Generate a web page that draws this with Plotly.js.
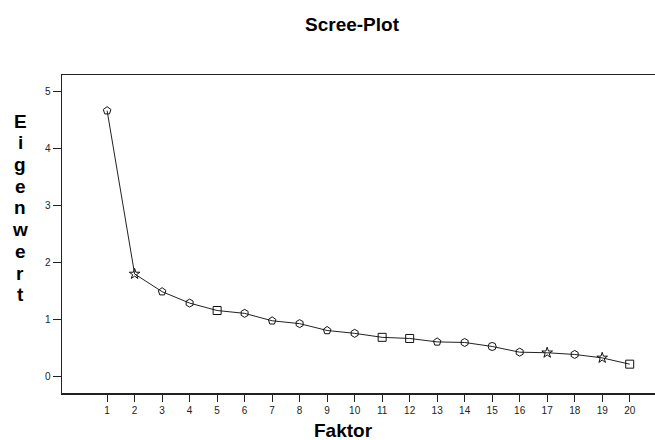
<!DOCTYPE html>
<html>
<head>
<meta charset="utf-8">
<script src="https://cdn.plot.ly/plotly-3.0.1.min.js"></script>
<style>html,body{margin:0;padding:0;background:#fff;}#chart{width:655px;height:440px;}</style>
</head>
<body>
<div id="chart"></div>
<script>
const factors = [1,2,3,4,5,6,7,8,9,10,11,12,13,14,15,16,17,18,19,20];
const eigenvalues = [4.66,1.80,1.49,1.29,1.16,1.11,0.98,0.93,0.81,0.76,0.69,0.67,0.61,0.60,0.53,0.43,0.42,0.39,0.33,0.22];
const tickLabels = ['1','2','3','4','5','6','7','8','9','10','11','12','13','14','15','16','17','18','19','20'];
const yTicks = [0,1,2,3,4,5];
const titleText = 'Scree-Plot';
const xTitleText = 'Faktor';
const yTitleText = 'Eigenwert';

const symbols = ['pentagon-open','star-open','pentagon-open','hexagon-open','square-open','hexagon-open','pentagon-open','hexagon-open','pentagon-open','hexagon-open','square-open','square-open','pentagon-open','hexagon-open','circle-open','hexagon-open','star-open','hexagon-open','star-open','square-open'];

const trace = {
  x: factors, y: eigenvalues, type: 'scatter', mode: 'lines+markers',
  line: {color: '#222', width: 1},
  marker: {symbol: symbols, size: 8, color: '#111', line: {color: '#111', width: 1}},
  hoverinfo: 'skip', showlegend: false
};

const annotations = [
  {text: '<b>' + titleText + '</b>', xref: 'paper', yref: 'paper', x: 0.49, y: 1, yshift: 51,
   showarrow: false, font: {size: 19, color: '#000'}, xanchor: 'center', yanchor: 'middle'},
  {text: '<b>' + xTitleText + '</b>', xref: 'paper', yref: 'paper', x: 0.475, y: 0, yshift: -37,
   showarrow: false, font: {size: 19, color: '#000'}, xanchor: 'center', yanchor: 'middle'}
];
yTitleText.split('').forEach((ch, i) => {
  annotations.push({text: '<b>' + ch + '</b>', xref: 'paper', yref: 'paper', x: 0, xshift: -42,
    y: 0.855, yshift: -21.7 * i, showarrow: false, font: {size: 19, color: '#000'},
    xanchor: 'center', yanchor: 'middle'});
});

const layout = {
  width: 655, height: 440,
  margin: {l: 62, r: 0, t: 75, b: 47},
  paper_bgcolor: '#fff', plot_bgcolor: '#fff',
  font: {family: 'Liberation Sans, Arial, sans-serif', color: '#222'},
  xaxis: {
    range: [-0.64, 20.92], tickmode: 'array', tickvals: factors, ticktext: tickLabels,
    ticks: 'outside', ticklen: 7, tickwidth: 1, tickcolor: '#222',
    showline: true, linecolor: '#222', linewidth: 1.5, mirror: true,
    showgrid: false, zeroline: false, tickfont: {size: 10, color: '#222'}
  },
  yaxis: {
    range: [-0.285, 5.285], tickmode: 'array', tickvals: yTicks,
    ticks: 'outside', ticklen: 8, tickwidth: 1, tickcolor: '#222',
    showline: true, linecolor: '#222', linewidth: 1.5,
    showgrid: false, zeroline: false, tickfont: {size: 10, color: '#222'}
  },
  annotations: annotations
};

Plotly.newPlot('chart', [trace], layout, {staticPlot: true, displayModeBar: false});
</script>
</body>
</html>
